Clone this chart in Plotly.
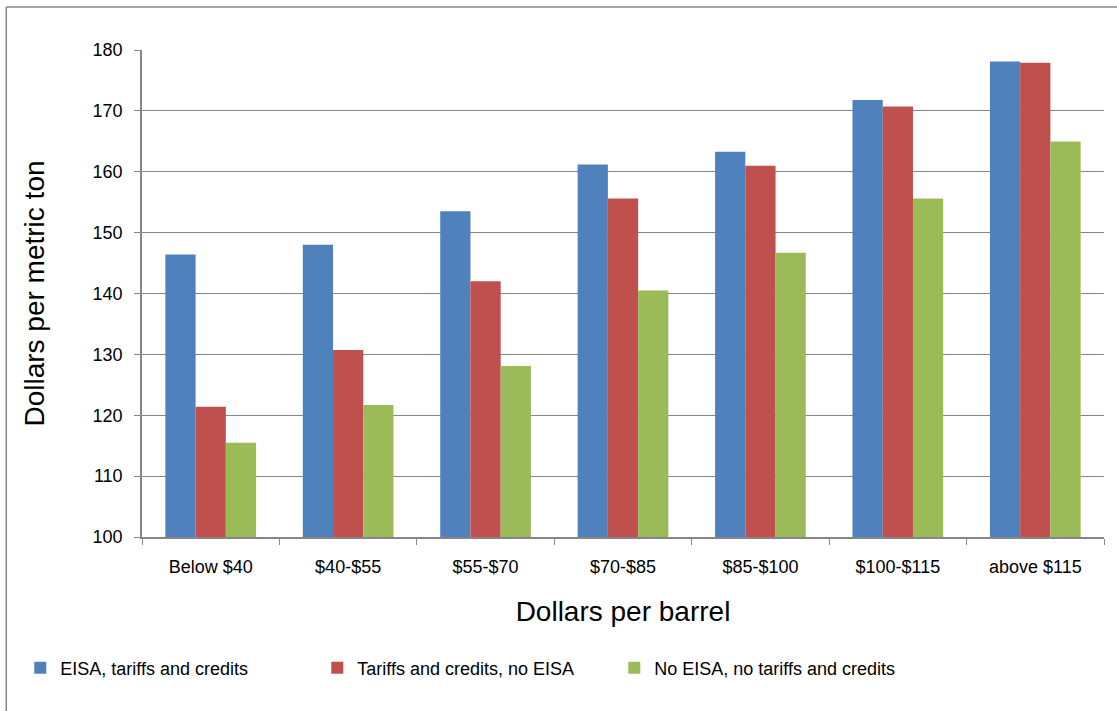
import plotly.graph_objects as go

categories = ["Below $40", "$40-$55", "$55-$70", "$70-$85", "$85-$100", "$100-$115", "above $115"]
eisa_tariffs_credits = [146.4, 148.0, 153.5, 161.2, 163.3, 171.8, 178.1]
tariffs_credits_no_eisa = [121.4, 130.7, 142.0, 155.6, 161.0, 170.7, 177.9]
no_eisa_no_tariffs = [115.5, 121.7, 128.1, 140.5, 146.7, 155.6, 164.95]
series_names = ["EISA, tariffs and credits", "Tariffs and credits, no EISA", "No EISA, no tariffs and credits"]
y_ticks = [100, 110, 120, 130, 140, 150, 160, 170, 180]

colors = ["#4F81BD", "#C0504D", "#9BBB59"]
W, H = 1117, 711
ML, MR, MT, MB = 141.75, 13, 50, 174
PW = W - ML - MR
PH = H - MT - MB
FONT = "Liberation Sans, Arial, sans-serif"

fig = go.Figure()
for name, vals, col in zip(series_names, [eisa_tariffs_credits, tariffs_credits_no_eisa, no_eisa_no_tariffs], colors):
    fig.add_trace(go.Bar(x=categories, y=vals, name=name, marker=dict(color=col, line=dict(width=0))))

def px_x(p):
    return (p - ML) / PW

def px_y(p):
    return (H - MB - p) / PH

fig.update_layout(
    width=W, height=H,
    margin=dict(l=ML, r=MR, t=MT, b=MB, autoexpand=False),
    paper_bgcolor="white", plot_bgcolor="white",
    barmode="group", bargap=0.34, bargroupgap=0,
    font=dict(family=FONT, color="#000000"),
    showlegend=True,
    legend=dict(orientation="h", x=px_x(20), xanchor="left", y=px_y(668), yanchor="middle",
                font=dict(size=18, family=FONT), entrywidth=252, entrywidthmode="pixels",
                bgcolor="rgba(0,0,0,0)", traceorder="normal"),
    xaxis=dict(type="category", showline=True, linecolor="#868686", linewidth=1.5,
               ticks="outside", tickson="boundaries", ticklen=6, tickcolor="#868686",
               tickfont=dict(size=18), showgrid=False, mirror=False,
               ticklabelstandoff=13,
               title=dict(text="Dollars per barrel", font=dict(size=28), standoff=25)),
    yaxis=dict(range=[100, 180], tickvals=y_ticks, showline=True, linecolor="#868686", linewidth=1.5,
               ticks="outside", ticklen=6, tickcolor="#868686", tickfont=dict(size=18),
               showgrid=True, gridcolor="#868686", gridwidth=1.2, zeroline=False,
               ticklabelstandoff=8,
               title=dict(text="Dollars per metric ton", font=dict(size=28), standoff=40)),
    shapes=[
        dict(type="line", xref="paper", yref="paper", x0=px_x(6), x1=px_x(1117), y0=px_y(7), y1=px_y(7),
             line=dict(color="#868686", width=1.5)),
        dict(type="line", xref="paper", yref="paper", x0=px_x(6), x1=px_x(6), y0=px_y(7), y1=px_y(711),
             line=dict(color="#868686", width=1.5)),
    ],
)

fig.write_html("out.html")
